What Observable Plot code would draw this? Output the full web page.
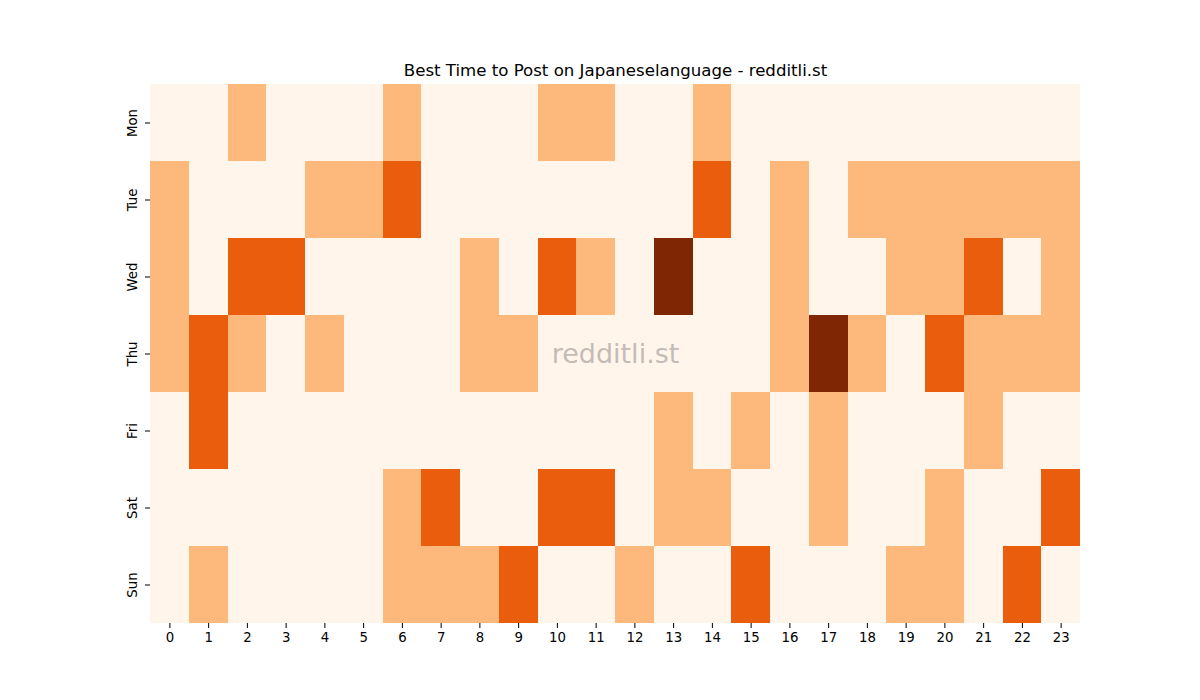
<!DOCTYPE html>
<html>
<head>
<meta charset="utf-8">
<script src="https://cdn.jsdelivr.net/npm/d3@7"></script>
<script src="https://cdn.jsdelivr.net/npm/@observablehq/plot@0.6"></script>
<style>
  html, body { margin: 0; padding: 0; background: #fff; }
  svg { font-family: "DejaVu Sans", sans-serif; }
</style>
</head>
<body>
<div id="chart"></div>
<script>
const title = "Best Time to Post on Japaneselanguage - redditli.st";
const watermark = "redditli.st";
const days = ["Mon", "Tue", "Wed", "Thu", "Fri", "Sat", "Sun"];
const hours = [0,1,2,3,4,5,6,7,8,9,10,11,12,13,14,15,16,17,18,19,20,21,22,23];
const levels = [0, 1, 2, 3];
const levelColors = ["#fff5eb", "#fdb87c", "#e95d0d", "#7f2704"];

const mon = [0,0,1,0,0,0,1,0,0,0,1,1,0,0,1,0,0,0,0,0,0,0,0,0];
const tue = [1,0,0,0,1,1,2,0,0,0,0,0,0,0,2,0,1,0,1,1,1,1,1,1];
const wed = [1,0,2,2,0,0,0,0,1,0,2,1,0,3,0,0,1,0,0,1,1,2,0,1];
const thu = [1,2,1,0,1,0,0,0,1,1,0,0,0,0,0,0,1,3,1,0,2,1,1,1];
const fri = [0,2,0,0,0,0,0,0,0,0,0,0,0,1,0,1,0,1,0,0,0,1,0,0];
const sat = [0,0,0,0,0,0,1,2,0,0,2,2,0,1,1,0,0,1,0,0,1,0,0,2];
const sun = [0,1,0,0,0,0,1,1,1,2,0,0,1,0,0,2,0,0,0,1,1,0,2,0];

const rows = [mon, tue, wed, thu, fri, sat, sun];
const cells = [];
rows.forEach((r, i) => r.forEach((v, h) => cells.push({day: days[i], hour: hours[h], value: v})));

const chart = Plot.plot({
  width: 1200,
  height: 700,
  marginLeft: 150,
  marginRight: 120,
  marginTop: 84,
  marginBottom: 77,
  style: {fontFamily: "DejaVu Sans, sans-serif", fontSize: "13.3px", color: "#000", background: "#fff"},
  x: {type: "band", domain: hours, padding: 0, round: false, label: null, tickSize: 5, tickPadding: 4},
  y: {type: "band", domain: days, padding: 0, round: false, label: null, tickSize: 5, tickPadding: 9, tickRotate: -90},
  color: {type: "ordinal", domain: levels, range: levelColors},
  marks: [
    Plot.cell(cells, {x: "hour", y: "day", fill: "value", inset: 0, shapeRendering: "crispEdges"}),
    Plot.text([watermark], {frameAnchor: "middle", fontSize: 27, fill: "#b0a8a4", fillOpacity: 0.75}),
    Plot.text([title], {frameAnchor: "top", dy: -20, fontSize: 16.6, fill: "#000"})
  ]
});
document.getElementById("chart").appendChild(chart);
</script>
</body>
</html>
